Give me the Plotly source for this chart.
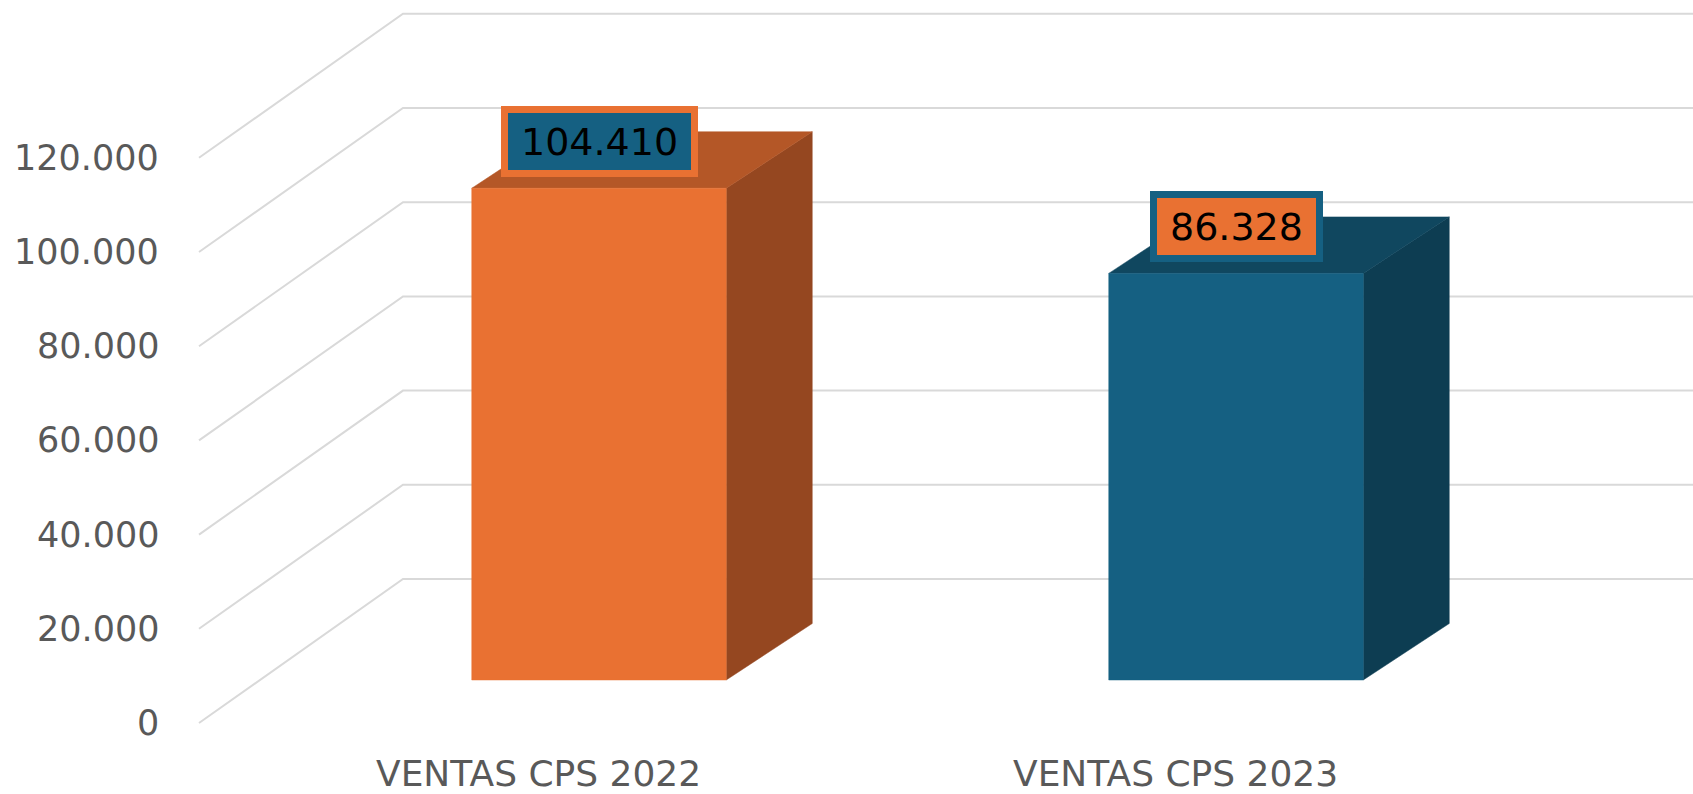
import plotly.graph_objects as go

# ---------------- data ----------------
categories = ["VENTAS CPS 2022", "VENTAS CPS 2023"]
ventas = [104410, 86328]
tick_values = [0, 20000, 40000, 60000, 80000, 100000, 120000]

front_colors = ["#E97132", "#156082"]
top_colors = ["#B45727", "#10475F"]
side_colors = ["#954720", "#0D3D52"]
label_bg = ["#156082", "#E97132"]
label_border = ["#E97132", "#156082"]

# ---------------- geometry (oblique 3D projection) ----------------
W, H = 1693, 794
PX_PER_CAT = 637.0      # pixels per category step
PX_PER_VAL = 0.00471    # pixels per value unit
X0_PX = 538.0           # pixel x of first category on front floor edge
Y0_PX = 723.0           # pixel y of value 0 on front floor edge


def dx(px):
    return px / PX_PER_CAT


def dv(px):
    return px / PX_PER_VAL


def fmt(v):
    return f"{v:,}".replace(",", ".")


x_range = [-X0_PX / PX_PER_CAT, (W - X0_PX) / PX_PER_CAT]
y_range = [-(H - Y0_PX) / PX_PER_VAL, Y0_PX / PX_PER_VAL]

FLOOR_LEFT = dx(199 - X0_PX)
WALL_DX, WALL_DV = dx(204), dv(144)
BAR_W = dx(254.5)
BAR_FRONT_DX, BAR_FRONT_DV = dx(61), dv(43)
BAR_DEPTH_DX, BAR_DEPTH_DV = dx(86), dv(56.5)

fig = go.Figure()

# gridlines: diagonal on left wall then horizontal on back wall
gx, gy = [], []
for t in tick_values:
    gx += [FLOOR_LEFT, FLOOR_LEFT + WALL_DX, x_range[1] + 1, None]
    gy += [t, t + WALL_DV, t + WALL_DV, None]
fig.add_trace(go.Scatter(x=gx, y=gy, mode="lines",
                         line=dict(color="#D9D9D9", width=2),
                         hoverinfo="skip", showlegend=False))


def poly(xs, ys, color):
    fig.add_trace(go.Scatter(
        x=xs + [xs[0]], y=ys + [ys[0]], mode="lines", fill="toself",
        fillcolor=color, line=dict(width=0.5, color=color),
        hoverinfo="skip", showlegend=False))


# bars: side, top and front faces
centers = [i + BAR_FRONT_DX for i in range(len(categories))]
for i, v in enumerate(ventas):
    c = centers[i]
    xl, xr = c - BAR_W / 2, c + BAR_W / 2
    yb, yt = BAR_FRONT_DV, BAR_FRONT_DV + v
    poly([xr, xr, xr + BAR_DEPTH_DX, xr + BAR_DEPTH_DX],
         [yb, yt, yt + BAR_DEPTH_DV, yb + BAR_DEPTH_DV], side_colors[i])
    poly([xl, xr, xr + BAR_DEPTH_DX, xl + BAR_DEPTH_DX],
         [yt, yt, yt + BAR_DEPTH_DV, yt + BAR_DEPTH_DV], top_colors[i])
    poly([xl, xr, xr, xl], [yb, yb, yt, yt], front_colors[i])

annotations = []
# data labels
LABEL_FS = 38
for i, v in enumerate(ventas):
    txt = fmt(v)
    tw = sum(0.318 if ch == "." else 0.636 for ch in txt) * LABEL_FS
    annotations.append(dict(
        x=centers[i], y=BAR_FRONT_DV + v + dv(47), xref="x", yref="y",
        text=txt, showarrow=False, xanchor="center", yanchor="middle",
        font=dict(family="DejaVu Sans", size=LABEL_FS, color="#000000"),
        bgcolor=label_bg[i], bordercolor=label_border[i], borderwidth=7,
        borderpad=0, width=tw + 26, height=57))

# value axis labels
for t in tick_values:
    annotations.append(dict(
        x=FLOOR_LEFT - dx(38), y=t, xref="x", yref="y", text=fmt(t),
        showarrow=False, xanchor="right", yanchor="middle",
        font=dict(family="DejaVu Sans", size=35, color="#595959")))

# category labels
for i, cat in enumerate(categories):
    annotations.append(dict(
        x=i, y=-dv(50), xref="x", yref="y", text=cat, showarrow=False,
        xanchor="center", yanchor="middle",
        font=dict(family="DejaVu Sans", size=36, color="#595959")))

fig.update_layout(
    width=W, height=H, margin=dict(l=0, r=0, t=0, b=0),
    paper_bgcolor="white", plot_bgcolor="white",
    xaxis=dict(range=x_range, visible=False, fixedrange=True),
    yaxis=dict(range=y_range, visible=False, fixedrange=True),
    showlegend=False, annotations=annotations,
)

fig.write_html("out.html", config={"displayModeBar": False},
               post_script="document.body.style.margin='0';document.body.style.overflow='hidden';")
